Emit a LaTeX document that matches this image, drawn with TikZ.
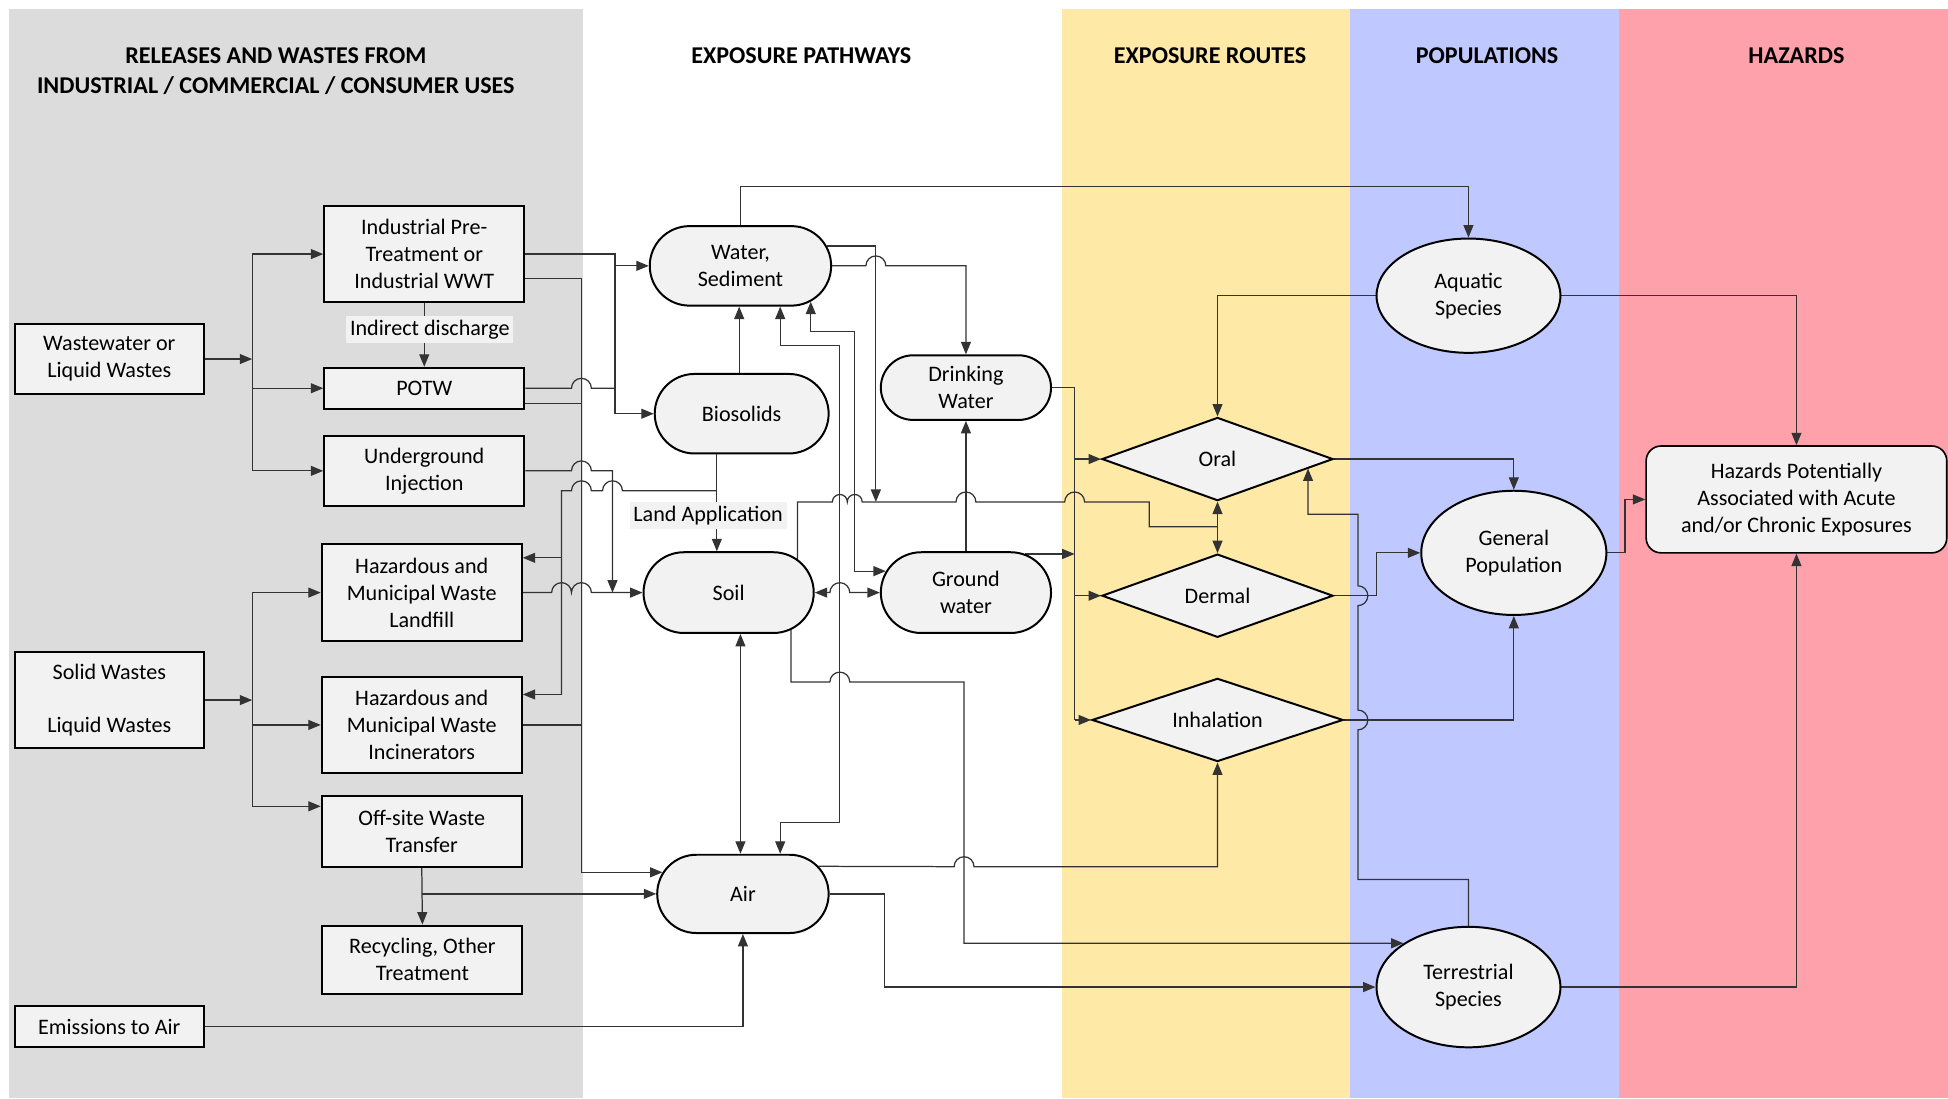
\documentclass[tikz,border=0pt]{standalone}
\usepackage{fontspec}
\setmainfont{Carlito}
\usetikzlibrary{arrows.meta,shapes.geometric,shapes.misc,calc}
\pgfdeclarelayer{panels}
\pgfdeclarelayer{lines}
\pgfsetlayers{panels,lines,main}
\definecolor{nodefill}{HTML}{F2F2F2}
\definecolor{panelgray}{HTML}{DCDCDC}
\definecolor{panelyellow}{HTML}{FFE9A6}
\definecolor{panelblue}{HTML}{BFC9FF}
\definecolor{panelpink}{HTML}{FFA1AA}
\definecolor{linegray}{HTML}{333333}
\newcommand\ndfont{\fontsize{17.8}{21.7}\selectfont}
\newcommand\hdfont{\fontsize{19.4}{24}\selectfont\bfseries}
% hops: right-going, left-going, up-going
\newcommand\hopr[2]{-- ({#1-8},#2) arc[start angle=180,end angle=0,radius=8pt]}
\newcommand\hops[2]{-- ({#1-6},#2) arc[start angle=180,end angle=0,radius=6pt]}
\newcommand\hopl[2]{-- ({#1+8},#2) arc[start angle=0,end angle=180,radius=8pt]}
\newcommand\hopu[2]{-- (#1,{#2+8}) arc[start angle=-90,end angle=90,radius=8pt]}
\tikzset{
  box/.style={draw=black, line width=1.6pt, fill=nodefill, inner sep=0pt, align=center, font=\ndfont},
  rbox/.style={box, rectangle},
  pill/.style={box, rounded rectangle},
  dia/.style={box, diamond, aspect=2.78},
  ell/.style={box, ellipse},
  lab/.style={fill=nodefill, inner sep=3pt, font=\ndfont},
  con/.style={line width=1pt, draw=linegray},
  arr/.style={con, -{Triangle[length=10pt,width=8pt]}},
  darr/.style={con, {Triangle[length=10pt,width=8pt]}-{Triangle[length=10pt,width=8pt]}},
  head/.style={font=\hdfont, align=center, inner sep=0pt},
}
\begin{document}
\begin{tikzpicture}[x=1pt,y=-1pt]
\useasboundingbox (0,0) rectangle (1568,884);
\begin{pgfonlayer}{panels}
\fill[white] (0,0) rectangle (1568,884);
\fill[panelgray] (7,7) rectangle (469,884);
\fill[panelyellow] (855,7) rectangle (1087,884);
\fill[panelblue] (1087,7) rectangle (1303,884);
\fill[panelpink] (1303,7) rectangle (1568,884);
\end{pgfonlayer}

% headers
\node[head] (h1) at (222,57) {RELEASES AND WASTES FROM\\INDUSTRIAL / COMMERCIAL / CONSUMER USES};
\node[head] (h2) at (645,45) {EXPOSURE PATHWAYS};
\node[head] (h3) at (974,45) {EXPOSURE ROUTES};
\node[head] (h4) at (1197,45) {POPULATIONS};
\node[head] (h5) at (1446,45) {HAZARDS};

% left column
\node[rbox, minimum width=152pt, minimum height=56pt] (ww) at (88,289) {Wastewater or\\Liquid Wastes};
\node[rbox, minimum width=161pt, minimum height=77pt] (ipt) at (341.5,204.5) {Industrial Pre-\\Treatment or\\Industrial WWT};
\node[rbox, minimum width=161pt, minimum height=33pt] (potw) at (341.5,312.5) {POTW};
\node[rbox, minimum width=161pt, minimum height=56pt] (ui) at (341.5,379) {Underground\\Injection};
\node[rbox, minimum width=161pt, minimum height=78pt] (lf) at (339.5,477) {Hazardous and\\Municipal Waste\\Landfill};
\node[rbox, minimum width=152pt, minimum height=77pt] (sw) at (88,563.5) {Solid Wastes\\[21.7pt]Liquid Wastes};
\node[rbox, minimum width=161pt, minimum height=77pt] (inc) at (339.5,583.5) {Hazardous and\\Municipal Waste\\Incinerators};
\node[rbox, minimum width=161pt, minimum height=57pt] (ost) at (339.5,669.5) {Off-site Waste\\Transfer};
\node[rbox, minimum width=161pt, minimum height=55pt] (rec) at (340,772.5) {Recycling, Other\\Treatment};
\node[rbox, minimum width=152pt, minimum height=33pt] (em) at (88,826.5) {Emissions to Air};
\node[lab] (idl) at (346,265) {Indirect discharge};

% pathways
\node[pill, minimum width=146pt, minimum height=64pt] (water) at (596,214) {Water,\\Sediment};
\node[pill, minimum width=140pt, minimum height=64pt] (bio) at (597,333) {Biosolids};
\node[pill, minimum width=137pt, minimum height=65pt] (soil) at (586.5,477) {Soil};
\node[pill, minimum width=138pt, minimum height=63pt] (air) at (598,719.5) {Air};
\node[pill, minimum width=137pt, minimum height=52pt] (dw) at (777.5,312) {Drinking\\Water};
\node[pill, minimum width=137pt, minimum height=65pt] (gw) at (777.5,477) {Ground\\water};
\node[lab] (lal) at (570,415) {Land Application};

% routes
\node[dia, minimum width=186pt, minimum height=67pt] (oral) at (980,369.5) {Oral};
\node[dia, minimum width=186pt, minimum height=67pt] (dermal) at (980,479.5) {Dermal};
\node[dia, minimum width=202pt, minimum height=67pt] (inh) at (980,579.5) {Inhalation};

% populations
\node[ell, minimum width=148pt, minimum height=92pt] (aq) at (1182,238) {Aquatic\\Species};
\node[ell, minimum width=149pt, minimum height=100pt] (gp) at (1218.5,445) {General\\Population};
\node[ell, minimum width=148pt, minimum height=97pt] (ter) at (1182,794.5) {Terrestrial\\Species};

% hazards
\node[box, rectangle, rounded corners=12pt, line width=1.3pt, minimum width=242pt, minimum height=86pt] (haz) at (1446,402) {Hazards Potentially\\Associated with Acute\\and/or Chronic Exposures};

\coordinate (wbus) at (203,289);
\coordinate (sbus) at (203,563.5);

\begin{pgfonlayer}{lines}
% wastewater branch
\draw[arr] (ww.east) -- (wbus);
\draw[con] (203,0 |- ipt.west) -- (203,0 |- ui.west);
\draw[arr] (203,0 |- ipt.west) -- (ipt.west);
\draw[arr] (203,0 |- potw.west) -- (potw.west);
\draw[arr] (203,0 |- ui.west) -- (ui.west);
\draw[arr] (ipt.south) -- (potw.north);
% solid wastes branch
\draw[arr] (sw.east) -- (sbus);
\draw[con] (203,0 |- lf.west) -- (203,649);
\draw[arr] (203,0 |- lf.west) -- (lf.west);
\draw[arr] (203,0 |- inc.west) -- (inc.west);
\draw[arr] (203,649) -- (ost.west |- 0,649);
\draw[arr] (ost.south) -- (rec.north);
\draw[arr] (ost.south |- air.west) -- (air.west);
\draw[arr] (em.east) -| (air.south);

% industrial / POTW -> water, biosolids
\draw[arr] (ipt.east) -- (495,204.5) -- (495,333) -- (bio.west);
\draw[arr] (495,214) -- (water.west);
\draw[con] (potw.east) \hopr{468}{312.5} -- (495,312.5);
% industrial / POTW / incinerators -> air
\draw[arr] (ipt.east |- 0,224) -- (468,224) -- (468,0 |- air.165) -- (air.165);
\draw[con] (potw.east |- 0,325) -- (468,325);
\draw[con] (inc.east) -- (468,583.5);
% underground injection -> soil
\draw[arr] (ui.east) \hopr{468}{379} -- (493,379) -- (493,477);
% landfill -> soil
\draw[arr] (lf.east) \hopr{452}{477} \hopr{468}{477} -- (soil.west);
% biosolids -> soil, landfill, incinerators, water
\draw[arr] (577,0 |- bio.south) -- (577,0 |- soil.north);
\draw[con] (577,395) \hopl{493}{395} \hopl{468}{395} -- (452,395) -- (452,559);
\draw[arr] (452,449) -- (lf.east |- 0,449);
\draw[arr] (452,559) -- (inc.east |- 0,559);
\draw[arr] (595,0 |- bio.north) -- (595,0 |- water.south);

% water outputs
\draw[arr] (water.north) -- (596,150) -| (aq.north);
\draw[arr] (water.13) -- (705,0 |- water.13) -- (705,404);
\draw[arr] (water.east) \hopr{705}{214} -- (777.5,214) -- (dw.north);
\draw[darr] (628,0 |- water.south) -- (628,278) -- (676,278) -- (676,662) -- (628,662) -- (628,0 |- air.north);
\draw[darr] (water.-27) -- (water.-27 |- 0,267) -- (688,267) -- (688,0 |- gw.165) -- (gw.165);

% drinking water / ground water -> routes
\draw[con] (dw.east) -- (865,312) -- (865,579.5);
\draw[arr] (865,0 |- oral.west) -- (oral.west);
\draw[arr] (865,0 |- dermal.west) -- (dermal.west);
\draw[arr] (865,0 |- inh.west) -- (inh.west);
\draw[arr] (gw.33) -- (865,0 |- gw.33);
\draw[arr] (gw.north) -- (dw.south);

% soil outputs
\draw[con] (soil.26) -- (soil.26 |- 0,404) \hops{676}{404} \hops{688}{404} \hopr{777.5}{404} \hopr{865}{404} -- (925,404) -- (925,424) -- (980,424);
\draw[darr] (oral.south) -- (dermal.north);
\draw[darr] (soil.east) \hopr{676}{477} -- (gw.west);
\draw[darr] (596,0 |- soil.south) -- (596,0 |- air.north);
\draw[arr] (soil.-31) -- (soil.-31 |- 0,549) \hopr{676}{549} -- (776,549) -- (776,0 |- ter.146) -- (ter.146);

% air outputs
\draw[arr] (air.20) \hopr{776}{697.6} -- (980,697.6) -- (inh.south);
\draw[arr] (air.east) -- (712,719.5) -- (712,794.5) -- (ter.west);

% populations
\draw[arr] (aq.west) -| (oral.north);
\draw[arr] (aq.east) -| (haz.north);
\draw[arr] (oral.east) -| (gp.north);
\draw[arr] (dermal.east) -- (1108,479.5) -- (1108,445) -- (gp.west);
\draw[arr] (inh.east) -| (gp.south);
\draw[arr] (ter.north) -- (1182,708) -- (1093,708) \hopu{1093}{579.5} \hopu{1093}{479.5} -- (1093,414) -- (oral.-6.35 |- 0,414) -- (oral.-6.35);
\draw[arr] (ter.east) -| (haz.south);
\draw[arr] (gp.east) -- (1308,445) -- (1308,402) -- (haz.west);
\end{pgfonlayer}
\end{tikzpicture}
\end{document}
